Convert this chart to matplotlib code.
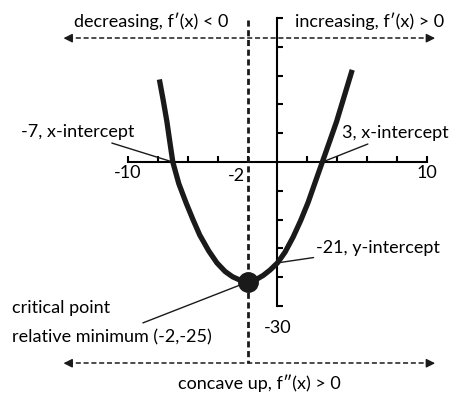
import matplotlib.pyplot as plt

plt.rcParams['font.family'] = ['Lato', 'DejaVu Sans']

# curve (x, f(x))
curve_x = [-7.9, -7.65, -7.4, -7.2, -7.0, -6.6, -6.1, -5.65, -5.2, -4.6, -4.05, -3.5, -3.0, -2.5, -2.0,
           -1.5, -0.95, -0.5, 0.0, 0.5, 1.05, 1.55, 2.05, 2.5, 3.0, 3.5, 3.95, 4.3, 4.65, 5.0]
curve_y = [17.2, 13.0, 8.5, 4.2, 0.0, -4.5, -8.6, -12.0, -15.2, -18.5, -21.0, -22.8, -23.9, -24.6, -25.0,
           -24.6, -23.6, -22.5, -21.0, -18.8, -15.6, -12.2, -8.4, -4.4, 0.0, 4.4, 8.4, 12.0, 15.6, 19.2]

x_ticks = [-10, -8, -6, -4, -2, 2, 4, 6, 8, 10]
x_tick_labels = ['-10', '', '', '', '', '', '', '', '', '10']
y_ticks = [-30, -24, -18, -12, -6, 6, 12, 18, 24, 30]
x_min, x_max = -10, 10
y_min, y_max = -30, 30

vertex = (-2, -25)
x_int_left = (-7, 0)
x_int_right = (3, 0)
y_int = (0, -21)

fs = 13

fig = plt.figure(figsize=(4.5, 3.93), dpi=100)
ax = fig.add_axes([0, 0, 1, 1])
ax.set_xlim(-18.56, 11.54)
ax.set_ylim(-48.1, 33.75)

# axes through the origin
for side in ['top', 'right']:
    ax.spines[side].set_visible(False)
ax.spines['bottom'].set_position(('data', 0))
ax.spines['left'].set_position(('data', 0))
ax.spines['bottom'].set_bounds(x_min, x_max)
ax.spines['left'].set_bounds(y_min, y_max)
ax.spines['bottom'].set_linewidth(1.5)
ax.spines['left'].set_linewidth(1.5)
ax.set_xticks(x_ticks)
ax.set_xticklabels(x_tick_labels)
ax.set_yticks(y_ticks)
ax.set_yticklabels([''] * len(y_ticks))
ax.tick_params(axis='both', direction='in', length=4, width=1.5, labelsize=fs, pad=2)

# parabola and critical point
ax.plot(curve_x, curve_y, color='#1a1a1a', lw=3.8, solid_capstyle='butt', solid_joinstyle='round', zorder=4)
ax.plot(*vertex, 'o', color='#1a1a1a', ms=14, zorder=5)

# dashed line through x = -2
ax.plot([-2, -2], [29.6, -41.9], color='#1a1a1a', lw=2, dashes=[2.2, 1.3], zorder=3)

# dashed double arrows
for yy in [25.8, -41.9]:
    ax.plot([-14.0, 10.3], [yy, yy], color='#1a1a1a', lw=1.1, dashes=[3.3, 1.8])
    ax.annotate('', xy=(-14.5, yy), xytext=(-13.8, yy),
                arrowprops=dict(arrowstyle='-|>', color='#1a1a1a', lw=1, mutation_scale=13))
    ax.annotate('', xy=(10.73, yy), xytext=(10.0, yy),
                arrowprops=dict(arrowstyle='-|>', color='#1a1a1a', lw=1, mutation_scale=13))

ax.text(-8.46, 29.4, "decreasing, f\u2032(x) < 0", ha='center', va='center', fontsize=fs)
ax.text(6.19, 29.4, "increasing, f\u2032(x) > 0", ha='center', va='center', fontsize=fs)
ax.text(-1.24, -46.0, "concave up, f\u2033(x) > 0", ha='center', va='center', fontsize=fs)

ax.text(-2.15, -2.9, '-2', ha='right', va='center', fontsize=fs)
ax.text(0.03, -34.6, '-30', ha='center', va='center', fontsize=fs)

lead = dict(arrowstyle='-', color='#1a1a1a', lw=1, shrinkA=0, shrinkB=0)
ax.annotate('-7, x-intercept', xy=x_int_left, xytext=(-9.6, 6.2), ha='right', va='center',
            fontsize=fs, arrowprops=lead)
ax.annotate('3, x-intercept', xy=x_int_right, xytext=(4.3, 6.0), ha='left', va='center',
            fontsize=fs, arrowprops=lead)
ax.annotate('-21, y-intercept', xy=y_int, xytext=(2.6, -17.9), ha='left', va='center',
            fontsize=fs, arrowprops=lead)
ax.annotate('', xy=vertex, xytext=(-9.0, -33.5), arrowprops=lead)
ax.text(-17.76, -30.4, 'critical point', ha='left', va='center', fontsize=fs)
ax.text(-17.76, -36.5, 'relative minimum (-2,-25)', ha='left', va='center', fontsize=fs)

fig.savefig('out.png', dpi=100)
